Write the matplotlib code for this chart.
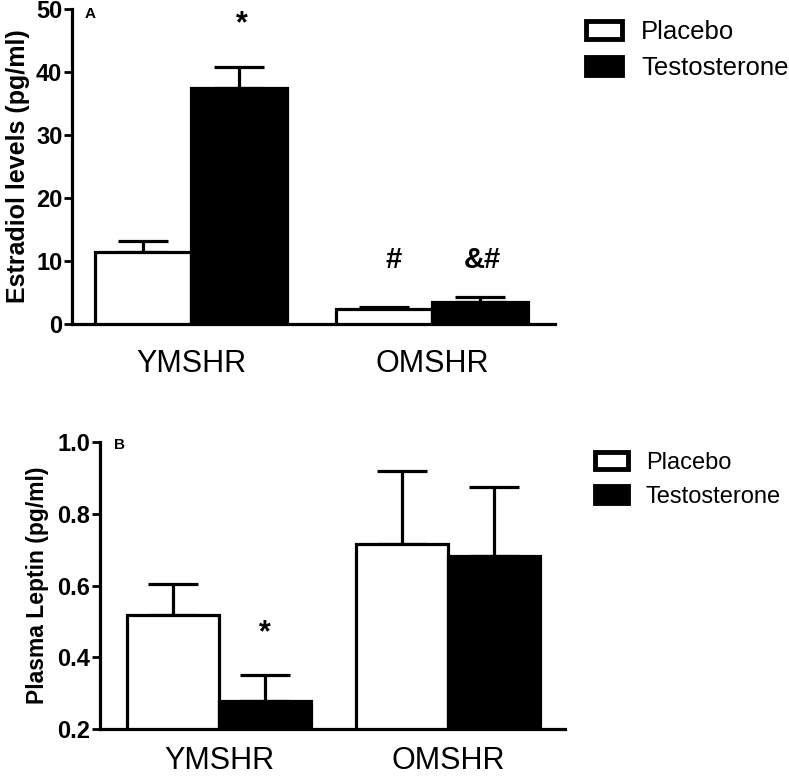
import matplotlib
matplotlib.use("Agg")
import matplotlib.pyplot as plt
from matplotlib.patches import Patch
import numpy as np

plt.rcParams['font.family'] = ['Liberation Sans', 'DejaVu Sans']

groups = ["YMSHR", "OMSHR"]
series = ["Placebo", "Testosterone"]

# Panel A: Estradiol
estradiol_placebo = [11.4, 2.35]
estradiol_placebo_err = [1.8, 0.4]
estradiol_testo = [37.4, 3.5]
estradiol_testo_err = [3.4, 0.75]
a_ticks = [0, 10, 20, 30, 40, 50]

# Panel B: Leptin
leptin_placebo = [0.518, 0.716]
leptin_placebo_err = [0.085, 0.203]
leptin_testo = [0.279, 0.682]
leptin_testo_err = [0.071, 0.193]
b_ticks = [0.2, 0.4, 0.6, 0.8, 1.0]

fig = plt.figure(figsize=(7.89, 7.77), dpi=100)
axA = fig.add_axes([0.0913, 0.583, 0.7034 - 0.0913, 0.9884 - 0.583])
axB = fig.add_axes([0.1267, 0.0618, 0.716 - 0.1267, 0.4311 - 0.0618])

W = 0.4
LW = 2.3

def draw(ax, p, pe, t, te, base, xpad):
    x = np.arange(len(groups))
    ax.bar(x - W/2, np.array(p) - base, W, bottom=base, color='white', edgecolor='black', linewidth=LW, zorder=3)
    ax.bar(x + W/2, np.array(t) - base, W, bottom=base, color='black', edgecolor='black', linewidth=LW, zorder=3)
    ax.errorbar(x - W/2, p, yerr=[np.zeros(len(p)), pe], fmt='none', ecolor='black',
                elinewidth=LW, capsize=18, capthick=LW, zorder=2)
    ax.errorbar(x + W/2, t, yerr=[np.zeros(len(t)), te], fmt='none', ecolor='black',
                elinewidth=LW, capsize=18, capthick=LW, zorder=2)
    ax.set_xticks(x)
    ax.set_xticklabels(groups, fontsize=22)
    ax.tick_params(axis='x', length=0, pad=xpad)
    ax.tick_params(axis='y', length=6, width=2, labelsize=17, pad=1)
    for s in ['top', 'right']:
        ax.spines[s].set_visible(False)
    for s in ['left', 'bottom']:
        ax.spines[s].set_linewidth(LW)

draw(axA, estradiol_placebo, estradiol_placebo_err, estradiol_testo, estradiol_testo_err, 0, 18)
axA.set_ylim(0, 50)
axA.set_xlim(-0.494, 1.51)
axA.set_yticks(a_ticks)
axA.set_yticklabels([str(v) for v in a_ticks])
for lab in axA.get_yticklabels():
    lab.set_fontweight('bold')
axA.set_ylabel("Estradiol levels (pg/ml)", fontsize=18, fontweight='bold', labelpad=4)
axA.text(0.037, 0.984, "A", transform=axA.transAxes, fontsize=11, fontweight='bold', va='center', ha='center')
axA.text(0.21, 47.6, "*", fontsize=22, fontweight='bold', ha='center', va='center')
axA.text(0.84, 10.2, "#", fontsize=21, fontweight='bold', ha='center', va='center')
axA.text(1.21, 10.2, "&#", fontsize=21, fontweight='bold', ha='center', va='center')

draw(axB, leptin_placebo, leptin_placebo_err, leptin_testo, leptin_testo_err, 0.2, 12)
axB.set_ylim(0.2, 1.0)
axB.set_xlim(-0.52, 1.51)
axB.set_yticks(b_ticks)
axB.set_yticklabels([f"{v:.1f}" for v in b_ticks])
for lab in axB.get_yticklabels():
    lab.set_fontweight('bold')
axB.set_ylabel("Plasma Leptin (pg/ml)", fontsize=16.5, fontweight='bold', labelpad=6)
axB.text(0.043, 0.99, "B", transform=axB.transAxes, fontsize=11, fontweight='bold', va='center', ha='center')
axB.text(0.2, 0.468, "*", fontsize=22, fontweight='bold', ha='center', va='center')

def legend(fx, fy, fs, sp):
    handles = [Patch(facecolor='white', edgecolor='black', linewidth=3.5),
               Patch(facecolor='black', edgecolor='black', linewidth=3.5)]
    fig.legend(handles, series, loc='upper left', bbox_to_anchor=(fx, fy), frameon=False,
               fontsize=fs, handlelength=1.4, handleheight=0.7, handletextpad=0.75,
               labelspacing=sp, borderpad=0, borderaxespad=0)

legend(586/789, 1 - 20/777, 18.5, 0.45)
legend(595/789, 1 - 452/777, 17, 0.5)

fig.savefig("out.png", dpi=100)
